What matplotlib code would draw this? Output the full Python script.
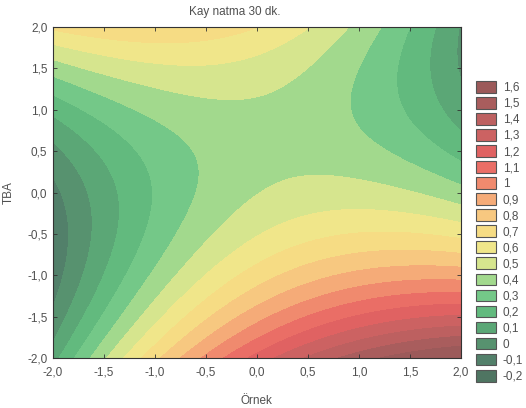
import numpy as np
import matplotlib
matplotlib.use("Agg")
import matplotlib.pyplot as plt
from matplotlib.patches import Patch

plt.rcParams['font.family'] = ['Liberation Sans', 'DejaVu Sans']

# fitted response surface: z = b0 + b1*x + b2*y + b11*x^2 + b22*y^2 + b12*x*y
coef_names = ["b0", "b1", "b2", "b11", "b22", "b12"]
coef_values = [0.3963, 0.1167, -0.1333, -0.0734, 0.1180, -0.1370]

x_range = [-2.0, 2.0]
y_range = [-2.0, 2.0]

legend_values = [-0.2, -0.1, 0.0, 0.1, 0.2, 0.3, 0.4, 0.5, 0.6, 0.7,
                 0.8, 0.9, 1.0, 1.1, 1.2, 1.3, 1.4, 1.5, 1.6]
legend_labels = ["-0,2", "-0,1", "0", "0,1", "0,2", "0,3", "0,4", "0,5", "0,6", "0,7",
                 "0,8", "0,9", "1", "1,1", "1,2", "1,3", "1,4", "1,5", "1,6"]
band_colors = ['#4f7562', '#52806a', '#57926f', '#5ba776', '#62ba7e', '#74c888',
               '#a2d98d', '#d6e58e', '#f0e68a', '#f6dc84', '#f7c880', '#f5ab78',
               '#f08a6e', '#ea6e66', '#e06262', '#cc6262', '#bd6060', '#a95d5d', '#9c5a5a']

tick_vals = [-2.0, -1.5, -1.0, -0.5, 0.0, 0.5, 1.0, 1.5, 2.0]
tick_labels = ["-2,0", "-1,5", "-1,0", "-0,5", "0,0", "0,5", "1,0", "1,5", "2,0"]

c = dict(zip(coef_names, coef_values))
xs = np.linspace(x_range[0], x_range[1], 300)
ys = np.linspace(y_range[0], y_range[1], 300)
X, Y = np.meshgrid(xs, ys)
Z = (c["b0"] + c["b1"] * X + c["b2"] * Y + c["b11"] * X ** 2
     + c["b22"] * Y ** 2 + c["b12"] * X * Y)

# each legend value is the upper edge of its band
bounds = [-1e3] + legend_values[:-1] + [1e3]

txt = '#505050'
fig = plt.figure(figsize=(5.26, 4.08), dpi=100)
ax = fig.add_axes([0.1008, 0.1225, 0.7752, 0.8113])
ax.contourf(X, Y, Z, levels=bounds, colors=band_colors)
ax.set_xlim(x_range)
ax.set_ylim(y_range)
ax.set_xticks(tick_vals)
ax.set_xticklabels(tick_labels)
ax.set_yticks(tick_vals)
ax.set_yticklabels(tick_labels)
ax.tick_params(direction='in', length=3, width=0.6, top=True, right=True,
               labelsize=8.5, labelcolor=txt, color='#333333')
ax.tick_params(axis='x', pad=6)
ax.tick_params(axis='y', pad=4)
for s in ax.spines.values():
    s.set_linewidth(0.8)
    s.set_color('#333333')
ax.set_xlabel("Örnek", fontsize=8.5, color=txt, labelpad=12)
ax.set_ylabel("TBA", fontsize=8.5, color=txt, labelpad=9)
fig.text(235 / 526, 1 - 12 / 408, "Kay natma 30 dk.", ha='center', va='center',
         fontsize=8.5, color=txt)

handles = [Patch(facecolor=col, edgecolor='#555555', linewidth=0.8) for col in band_colors]
handles = handles[::-1]
labels = legend_labels[::-1]
fig.legend(handles, labels, loc='upper left', bbox_to_anchor=(476 / 526, 1 - 81 / 408),
           frameon=False, fontsize=8.5, labelcolor=txt, handlelength=1.7,
           handleheight=1.15, labelspacing=0.27, handletextpad=0.55, borderaxespad=0,
           borderpad=0)

fig.savefig("out.png", dpi=100)
